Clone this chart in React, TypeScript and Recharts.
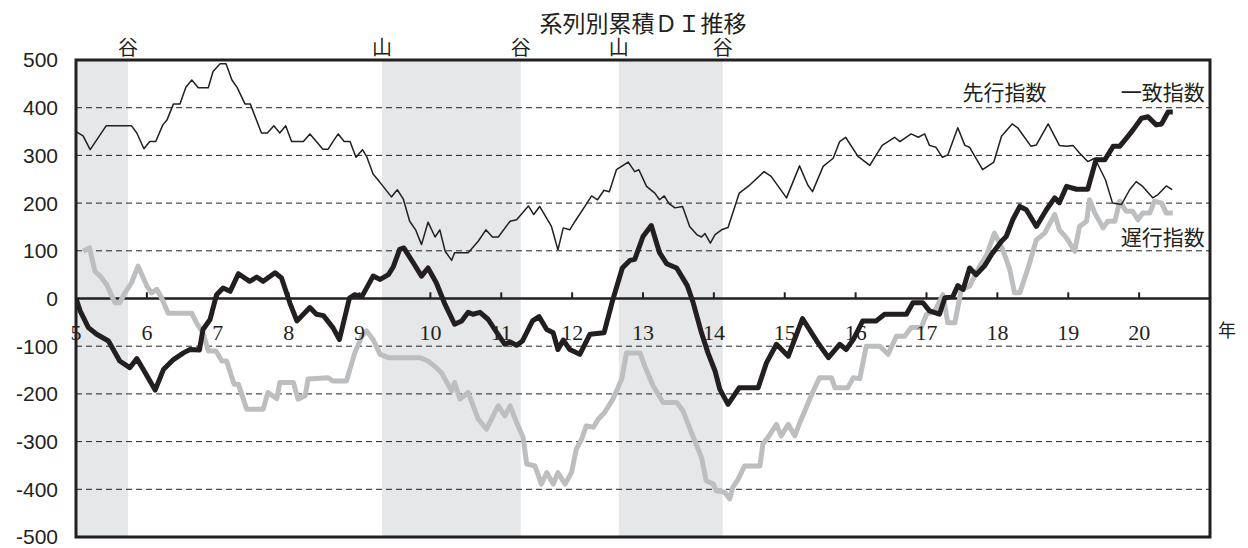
import React from "react";
import {
  LineChart,
  Line,
  XAxis,
  YAxis,
  ReferenceArea,
  ReferenceLine,
  ReferenceDot,
} from "recharts";

// months counted from January of year 5
const leadMonths = [
  0, 1.2, 2.4, 5.1, 9.4, 10.3, 11.5, 12.5, 13.5, 14.7, 15.4, 16.5, 17.6, 18.6, 19.6, 20.7, 22.4, 23.2, 24.4, 25.4,
  26.4, 27.3, 28.6, 29.5, 31.4, 32.4, 33.5, 34.5, 35.5, 36.5, 38.5, 39.6, 40.7, 41.8, 42.7, 43.5, 44.4, 45.4, 46.4,
  47.4, 48.5, 49.2, 50.3, 51.5, 53.4, 54.4, 55.4, 56.5, 57.5, 58.5, 59.6, 60.8, 61.6, 62.5, 63.6, 64.1, 66.4, 68.1,
  69.4, 70.5, 71.5, 73.5, 74.6, 76.6, 77.5, 78.5, 80.5, 81.6, 82.5, 83.6, 84.5, 86.1, 87.3, 88.3, 89.4, 90.3, 91.5,
  93.5, 94.6, 95.3, 96.6, 98.0, 98.8, 99.6, 100.4, 101.4, 102.7, 103.9, 105.1, 105.9, 106.5, 107.4, 108.2, 109.3,
  110.4, 112.3, 113.9, 116.5, 117.7, 120.3, 122.5, 123.9, 124.7, 126.5, 128.2, 129.3, 130.3, 132.4, 134.4, 136.5,
  138.6, 139.5, 141.4, 142.6, 143.7, 144.5, 145.6, 146.7, 147.6, 149.3, 150.5, 151.3, 153.5, 155.4, 156.7, 158.5,
  159.5, 161.7, 162.6, 164.6, 166.5, 167.7, 168.8, 169.9, 171.3, 172.5, 174.3, 175.5, 177.0, 178.4, 179.5, 180.6,
  182.3, 183.2, 184.6, 185.6,
];
const leadValues = [
  350, 341, 312, 362, 362, 347, 314, 329, 329, 364, 374, 408, 408, 443, 458, 442, 442, 476, 492, 492,
  458, 442, 408, 408, 347, 347, 362, 347, 362, 329, 329, 345, 329, 313, 313, 329, 345, 329, 329,
  296, 312, 298, 261, 243, 213, 228, 209, 162, 144, 113, 160, 129, 144, 99, 80, 96, 96, 120,
  144, 129, 129, 162, 165, 194, 176, 193, 151, 102, 148, 144, 162, 192, 215, 207, 227, 224, 270,
  286, 266, 270, 235, 221, 207, 215, 199, 190, 193, 151, 134, 129, 136, 116, 134, 144,
  149, 221, 236, 266, 256, 211, 278, 238, 224, 277, 294, 329, 338, 298, 279, 321,
  338, 329, 345, 338, 345, 321, 317, 296, 301, 358, 321, 317, 270, 286, 340, 366,
  357, 319, 322, 366, 321, 319, 321, 305, 287, 294, 249, 200, 197, 228, 245, 235,
  211, 218, 236, 228,
];

const coinMonths = [
  0, 0.7, 2.1, 3.5, 5.5, 7.4, 9.1, 10.3, 11.4, 13.4, 14.8, 16.5, 18.2, 19.3, 20.9, 21.5, 22.7, 23.8, 24.9, 26.1,
  27.5, 29.4, 30.6, 31.7, 33.7, 34.8, 36.2, 37.4, 39.6, 40.7, 41.9, 43.5, 44.6, 46.3, 47.2, 48.4, 50.3, 51.5, 52.9,
  53.7, 54.8, 55.5, 57.1, 58.5, 59.6, 61.0, 62.5, 64.1, 65.3, 66.4, 67.2, 68.4, 69.8, 70.9, 72.6, 73.5, 74.6, 75.6,
  77.3, 78.4, 79.7, 80.8, 81.6, 82.5, 83.6, 85.3, 87.0, 89.4, 90.9, 92.5, 93.8, 94.6, 96.0, 97.4, 98.8, 100.0,
  101.7, 103.5, 104.5, 105.9, 107.0, 108.2, 109.0, 110.4, 112.3, 115.5, 116.9, 118.6, 120.6, 123.0, 125.4, 127.4,
  129.3, 130.4, 131.6, 133.2, 135.5, 136.9, 140.6, 141.7, 143.4, 144.5, 146.2, 147.1, 148.5, 149.3, 150.2, 151.3,
  152.4, 153.8, 155.0, 156.7, 157.5, 158.6, 159.8, 160.9, 162.6, 164.3, 165.7, 166.5, 167.7, 169.4, 171.3, 172.7,
  174.2, 175.6, 176.7, 178.1, 179.0, 180.4, 181.5, 182.9, 183.8, 184.9, 185.7,
];
const coinValues = [
  0, -26, -61, -75, -89, -131, -145, -126, -149, -192, -149, -128, -114, -107, -108, -65, -44, 8, 22, 15,
  52, 36, 45, 36, 54, 43, -9, -47, -19, -33, -36, -61, -86, 1, 8, 4, 47, 40, 50,
  66, 103, 106, 75, 47, 64, 33, -13, -54, -47, -29, -33, -29, -44, -65, -96, -91, -98, -89,
  -47, -38, -65, -72, -107, -87, -107, -117, -75, -72, -2, 64, 80, 82, 130, 153, 96, 73,
  64, 27, -9, -72, -114, -152, -190, -222, -187, -187, -135, -96, -121, -42, -89, -124,
  -96, -107, -86, -47, -47, -33, -33, -9, -9, -26, -33, 1, 5, 27, 19, 64,
  50, 68, 92, 120, 130, 165, 193, 186, 151, 186, 211, 201, 235, 229, 229, 291,
  291, 319, 319, 340, 354, 378, 381, 364, 366, 391, 391,
];

const lagMonths = [
  1.2, 2.3, 3.2, 4.1, 5.2, 6.6, 7.4, 8.3, 9.4, 10.5, 12.0, 12.8, 13.7, 14.5, 15.6, 19.6, 20.4, 21.5, 22.4, 23.7,
  24.7, 25.5, 26.4, 26.8, 27.5, 28.9, 31.7, 32.5, 34.0, 34.5, 36.8, 37.6, 38.8, 39.3, 42.7, 43.5, 45.8, 47.2,
  48.4, 49.2, 50.3, 51.5, 52.9, 58.2, 59.6, 61.0, 61.9, 63.6, 64.1, 65.0, 66.4, 68.1, 69.5, 70.9, 71.5, 72.6,
  73.5, 74.6, 75.7, 76.3, 77.7, 78.8, 79.7, 80.8, 81.6, 82.8, 83.9, 84.7, 85.6, 86.4, 87.6, 88.4, 89.5, 90.9,
  92.4, 93.2, 95.5, 96.3, 97.7, 99.4, 101.7, 102.8, 104.2, 105.9, 106.7, 107.9, 108.4, 109.8, 110.7, 111.2,
  112.1, 113.2, 115.8, 116.3, 117.5, 118.6, 119.4, 120.6, 121.7, 122.5, 124.7, 125.9, 127.9, 128.5, 130.7,
  131.6, 132.7, 133.8, 136.1, 137.5, 138.9, 140.3, 141.4, 143.1, 144.0, 145.4, 146.8, 147.6, 148.8, 149.9,
  151.3, 153.0, 154.1, 155.5, 156.9, 158.1, 158.9, 159.8, 161.2, 162.6, 164.0, 165.7, 166.5, 167.7, 169.1,
  169.9, 171.1, 171.6, 172.5, 173.9, 174.7, 175.9, 176.7, 177.8, 178.9, 179.8, 180.6, 181.8, 182.6, 183.8,
  184.6, 185.7,
];
const lagValues = [
  99, 106, 57, 47, 29, -9, -9, 12, 33, 68, 26, 12, 19, 1, -31, -31, -51, -72, -110, -110,
  -131, -131, -166, -180, -180, -232, -232, -197, -210, -176, -176, -211, -204, -169, -166, -173, -173, -114,
  -79, -68, -86, -117, -124, -124, -131, -145, -156, -194, -176, -211, -197, -253, -274, -239, -225, -246,
  -225, -260, -291, -347, -351, -389, -365, -389, -365, -389, -365, -316, -295, -267, -270, -253, -239, -211,
  -169, -114, -114, -142, -183, -218, -218, -236, -281, -333, -382, -389, -403, -406, -420, -396,
  -379, -351, -351, -305, -285, -264, -288, -264, -288, -262, -197, -166, -166, -187, -187,
  -166, -168, -100, -100, -117, -79, -79, -61, -61, -33, -26, 8, -51, -51, 19,
  26, 68, 89, 137, 103, 61, 12, 12, 64, 123, 137, 176, 144, 127, 99,
  151, 162, 207, 179, 148, 162, 162, 204, 183, 183, 165, 179, 179, 204, 200,
  179, 179,
];

const yearLabels = ["5", "6", "7", "8", "9", "10", "11", "12", "13", "14", "15", "16", "17", "18", "19", "20"];
const yTicks = [-500, -400, -300, -200, -100, 0, 100, 200, 300, 400, 500];
const gridValues = [-400, -300, -200, -100, 100, 200, 300, 400];

// recession periods (山 -> 谷) in months
const shadeFrom = [0, 51.8, 91.9];
const shadeTo = [8.8, 75.3, 109.5];
const turnMonths = [8.8, 51.8, 75.3, 91.9, 109.5];
const turnLabels = ["谷", "山", "谷", "山", "谷"];

const toPoints = (ms: number[], vs: number[]) => ms.map((m, i) => ({ m, v: vs[i] }));
const leadData = toPoints(leadMonths, leadValues);
const coinData = toPoints(coinMonths, coinValues);
const lagData = toPoints(lagMonths, lagValues);

const INK = "#231f20";
const SANS = "'Liberation Sans', Arial, sans-serif";
const CJK = "'Noto Sans CJK JP', sans-serif";
const SERIF = "'Liberation Serif', 'Noto Sans CJK JP', serif";

export default function App() {
  return (
    <div style={{ position: "absolute", left: 0, top: 0, width: 1248, height: 548, background: "#fff" }}>
      <div
        style={{
          position: "absolute",
          left: 76,
          width: 1134,
          top: 11,
          textAlign: "center",
          fontFamily: CJK,
          fontSize: 23,
          lineHeight: "23px",
          color: INK,
        }}
      >
        系列別累積ＤＩ推移
      </div>
      <LineChart width={1248} height={548} margin={{ top: 60, right: 38, bottom: 11, left: 16 }}>
        <XAxis dataKey="m" type="number" domain={[0, 192]} allowDataOverflow hide />
        <YAxis
          type="number"
          domain={[-500, 500]}
          ticks={yTicks}
          interval={0}
          width={60}
          axisLine={false}
          tickLine={false}
          tickSize={0}
          tickMargin={18}
          tick={{ fill: INK, fontSize: 21, fontFamily: SANS }}
        />
        {shadeFrom.map((from, i) => (
          <ReferenceArea key={`s${i}`} x1={from} x2={shadeTo[i]} y1={-500} y2={500} fill="#e6e7e8" fillOpacity={1} stroke="none" />
        ))}
        {gridValues.map((g) => (
          <ReferenceLine key={`g${g}`} y={g} stroke={INK} strokeWidth={1} strokeDasharray="6 4" />
        ))}
        <ReferenceLine y={0} stroke={INK} strokeWidth={2.5} />
        {yearLabels.map((label, i) => (
          <ReferenceLine
            key={`t${label}`}
            segment={[{ x: i * 12, y: 0 }, { x: i * 12, y: 13 }]}
            stroke={INK}
            strokeWidth={2}
          />
        ))}
        {yearLabels.map((label, i) => (
          <ReferenceDot
            key={`y${label}`}
            x={i * 12}
            y={0}
            r={0}
            fill="none"
            stroke="none"
            ifOverflow="visible"
            label={{ value: label, position: "bottom", offset: 26, fill: INK, fontSize: 22, fontFamily: SERIF }}
          />
        ))}
        {turnMonths.map((m, i) => (
          <ReferenceDot
            key={`p${i}`}
            x={m}
            y={500}
            r={0}
            fill="none"
            stroke="none"
            ifOverflow="visible"
            label={{ value: turnLabels[i], position: "top", offset: 5, fill: INK, fontSize: 20, fontFamily: SERIF }}
          />
        ))}
        <ReferenceDot
          x={192}
          y={-67}
          r={0}
          fill="none"
          stroke="none"
          ifOverflow="visible"
          label={{ value: "年", position: "right", offset: 8, fill: INK, fontSize: 18, fontFamily: SERIF }}
        />
        <Line data={lagData} dataKey="v" type="linear" stroke="#bcbec0" strokeWidth={5} dot={false} strokeLinejoin="round" isAnimationActive={false} />
        <Line data={leadData} dataKey="v" type="linear" stroke={INK} strokeWidth={1.5} dot={false} strokeLinejoin="round" isAnimationActive={false} />
        <Line data={coinData} dataKey="v" type="linear" stroke={INK} strokeWidth={5} dot={false} strokeLinejoin="round" isAnimationActive={false} />
        <ReferenceDot x={157.2} y={432} r={0} fill="none" stroke="none" label={{ value: "先行指数", position: "center", fill: INK, fontSize: 21, fontFamily: CJK }} />
        <ReferenceDot x={184} y={432} r={0} fill="none" stroke="none" label={{ value: "一致指数", position: "center", fill: INK, fontSize: 21, fontFamily: CJK }} />
        <ReferenceDot x={184} y={127} r={0} fill="none" stroke="none" label={{ value: "遅行指数", position: "center", fill: INK, fontSize: 21, fontFamily: CJK }} />
        <ReferenceArea x1={0} x2={192} y1={-500} y2={500} fill="none" stroke={INK} strokeWidth={3} />
      </LineChart>
    </div>
  );
}
